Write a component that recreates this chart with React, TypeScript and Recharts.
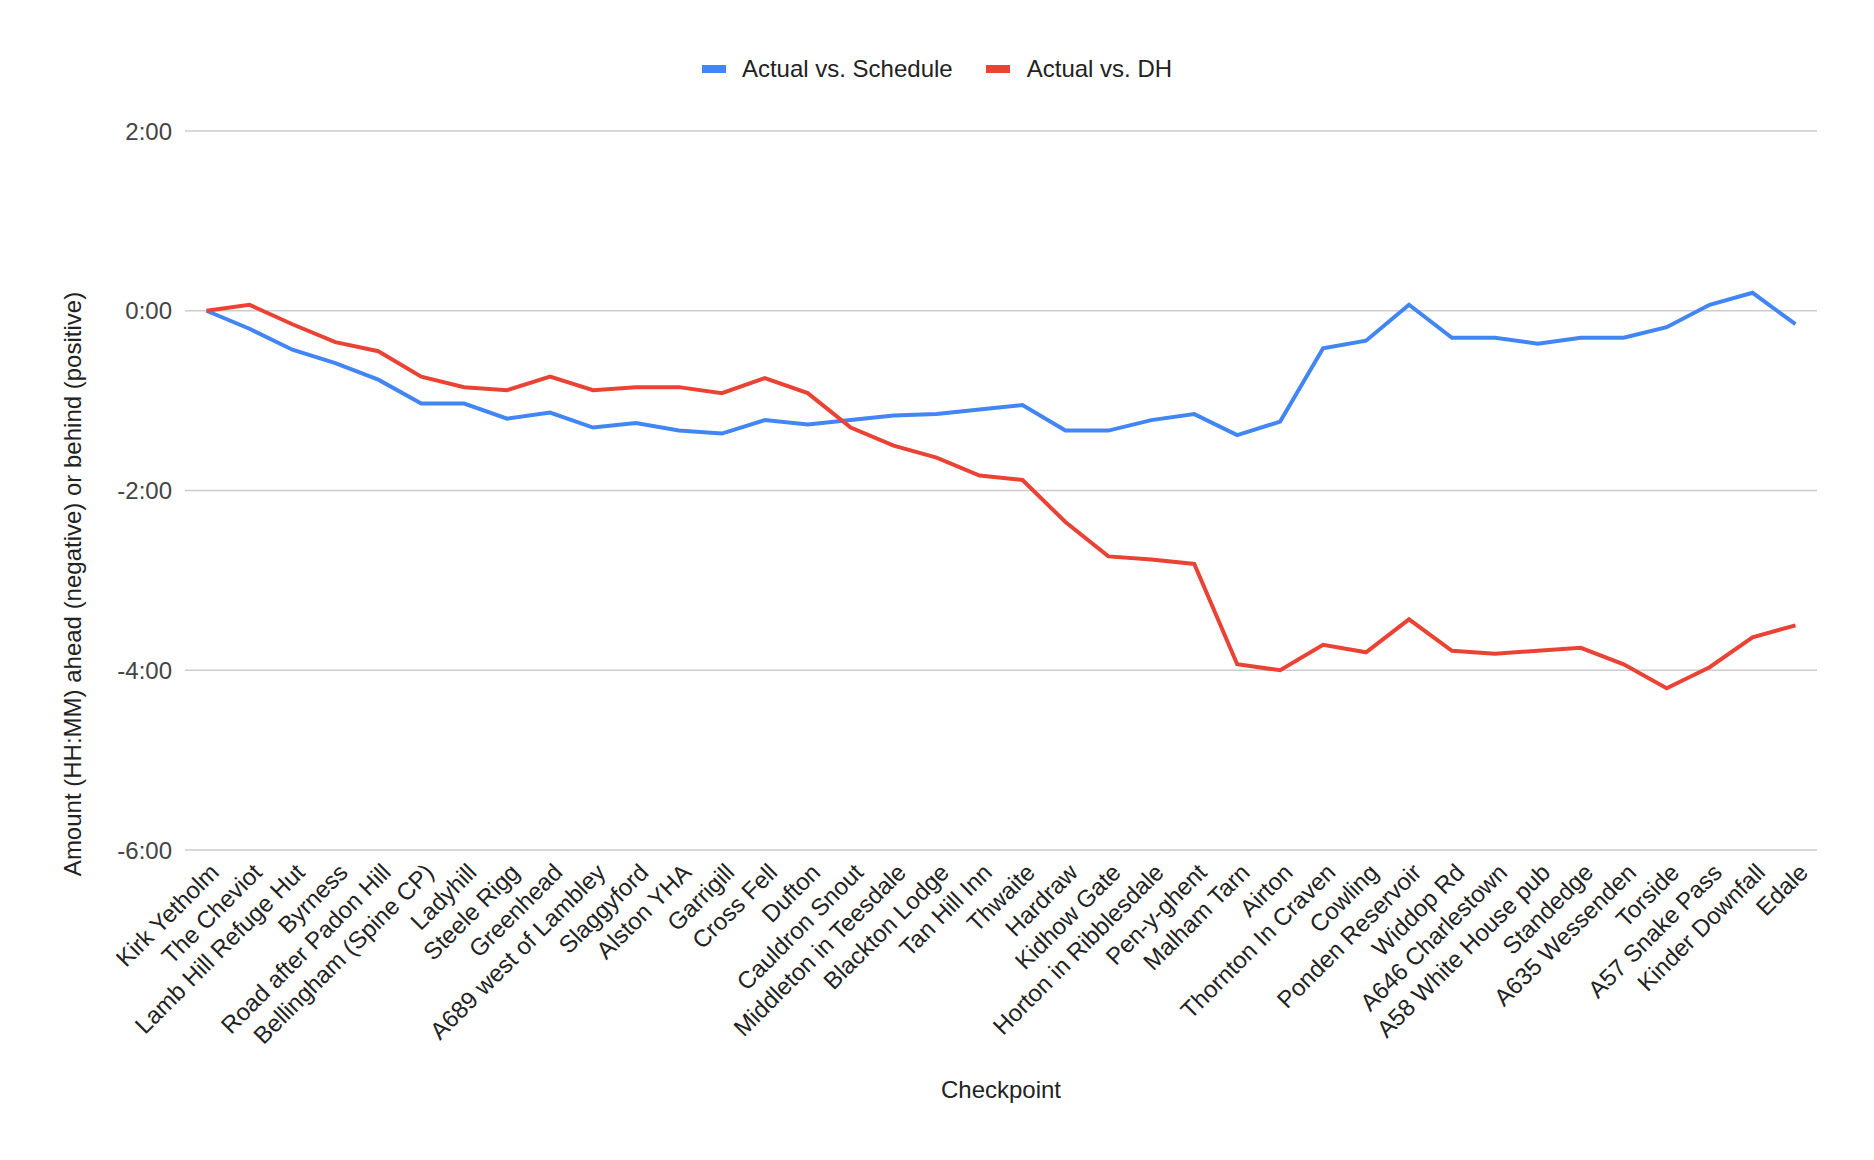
import React from "react";
import { LineChart, Line, XAxis, YAxis, CartesianGrid, Legend } from "recharts";

// checkpoints along the route
const checkpoints = [
  "Kirk Yetholm", "The Cheviot", "Lamb Hill Refuge Hut", "Byrness", "Road after Padon Hill",
  "Bellingham (Spine CP)", "Ladyhill", "Steele Rigg", "Greenhead", "A689 west of Lambley",
  "Slaggyford", "Alston YHA", "Garrigill", "Cross Fell", "Dufton", "Cauldron Snout",
  "Middleton in Teesdale", "Blackton Lodge", "Tan Hill Inn", "Thwaite", "Hardraw",
  "Kidhow Gate", "Horton in Ribblesdale", "Pen-y-ghent", "Malham Tarn", "Airton",
  "Thornton In Craven", "Cowling", "Ponden Reservoir", "Widdop Rd", "A646 Charlestown",
  "A58 White House pub", "Standedge", "A635 Wessenden", "Torside", "A57 Snake Pass",
  "Kinder Downfall", "Edale",
];

// minutes ahead (negative) / behind (positive)
const vsSchedule = [
  0, -12, -26, -35, -46, -62, -62, -72, -68, -78, -75, -80, -82, -73, -76, -73, -70, -69, -66,
  -63, -80, -80, -73, -69, -83, -74, -25, -20, 4, -18, -18, -22, -18, -18, -11, 4, 12, -9,
];
const vsDH = [
  0, 4, -9, -21, -27, -44, -51, -53, -44, -53, -51, -51, -55, -45, -55, -78, -90, -98, -110,
  -113, -141, -164, -166, -169, -236, -240, -223, -228, -206, -227, -229, -227, -225, -236,
  -252, -238, -218, -210,
];

const yTicks = [-360, -240, -120, 0, 120];

const data = checkpoints.map((name, i) => ({
  name,
  schedule: vsSchedule[i],
  dh: vsDH[i],
}));

const FONT = "Arial, 'Liberation Sans', sans-serif";

const fmtTime = (v: number) => {
  const sign = v < 0 ? "-" : "";
  const a = Math.abs(v);
  const h = Math.floor(a / 60);
  const m = a % 60;
  return `${sign}${h}:${String(m).padStart(2, "0")}`;
};

const XTick = ({ x, y, payload }: any) => (
  <text
    x={x + 8}
    y={y + 16}
    transform={`rotate(-45 ${x + 8} ${y + 16})`}
    textAnchor="end"
    dy="0.35em"
    fontSize={24}
    fontFamily={FONT}
    fill="#222"
  >
    {payload.value}
  </text>
);

const LegendBox = () => (
  <div
    style={{
      display: "flex",
      justifyContent: "center",
      alignItems: "center",
      fontFamily: FONT,
      fontSize: 24,
      color: "#222",
    }}
  >
    <span style={{ width: 24, height: 8, background: "#4285F4", marginRight: 16 }} />
    <span style={{ marginRight: 33 }}>Actual vs. Schedule</span>
    <span style={{ width: 24, height: 8, background: "#EA4335", marginRight: 17 }} />
    <span>Actual vs. DH</span>
  </div>
);

export default function App() {
  return (
    <div style={{ position: "absolute", left: 0, top: 0, background: "#fff" }}>
      <LineChart
        width={1874}
        height={1160}
        data={data}
        margin={{ top: 131, right: 57, left: 0, bottom: 0 }}
      >
        <CartesianGrid vertical={false} stroke="#ccc" strokeWidth={1.5} />
        <XAxis
          dataKey="name"
          interval={0}
          height={310}
          padding={{ left: 21.5, right: 21.5 }}
          axisLine={false}
          tickLine={false}
          tickSize={0}
          tick={<XTick />}
          label={{
            value: "Checkpoint",
            position: "insideBottom",
            offset: 62,
            fontSize: 24,
            fontFamily: FONT,
            fill: "#222",
          }}
        />
        <YAxis
          width={185}
          domain={[-360, 120]}
          ticks={yTicks}
          tickFormatter={fmtTime}
          axisLine={false}
          tickLine={false}
          tickSize={0}
          tickMargin={13}
          tick={{ fontSize: 24, fontFamily: FONT, fill: "#444" }}
          label={{
            content: () => (
              <text
                x={72}
                y={584}
                transform="rotate(-90 72 584)"
                textAnchor="middle"
                dominantBaseline="central"
                fontSize={24}
                fontFamily={FONT}
                fill="#222"
              >
                Amount (HH:MM) ahead (negative) or behind (positive)
              </text>
            ),
          }}
        />
        <Legend
          verticalAlign="middle"
          align="center"
          content={<LegendBox />}
          wrapperStyle={{ top: 55, left: 0, width: 1874 }}
        />
        <Line
          type="linear"
          dataKey="schedule"
          name="Actual vs. Schedule"
          stroke="#4285F4"
          strokeWidth={4}
          dot={false}
          isAnimationActive={false}
        />
        <Line
          type="linear"
          dataKey="dh"
          name="Actual vs. DH"
          stroke="#EA4335"
          strokeWidth={4}
          dot={false}
          isAnimationActive={false}
        />
      </LineChart>
    </div>
  );
}
